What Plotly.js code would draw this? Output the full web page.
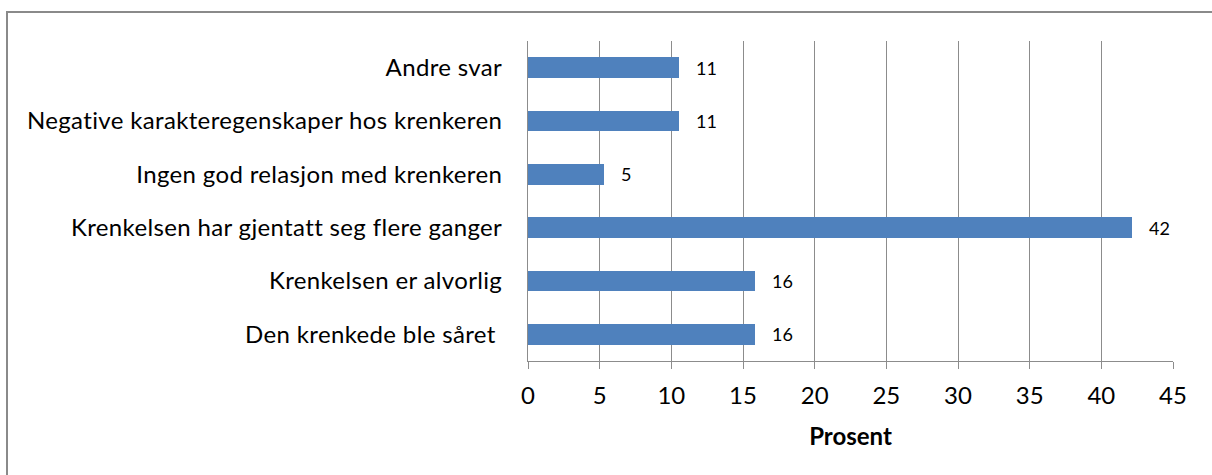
<!DOCTYPE html>
<html>
<head>
<meta charset="utf-8">
<script src="https://cdn.plot.ly/plotly-3.0.1.min.js"></script>
<style>
  html, body { margin: 0; padding: 0; background: #fff; }
  #chart { position: absolute; left: 0; top: 0; width: 1212px; height: 475px; }
  #frame { position: absolute; left: 6px; top: 11px; width: 1300px; height: 600px;
           border: 2px solid #8a8a8a; box-sizing: border-box; pointer-events: none; }
  #chart .ytick text { letter-spacing: 0.35px; }
</style>
</head>
<body>
<div id="chart"></div>
<div id="frame"></div>
<script>
// Categories, top to bottom as shown in the chart
const categories = [
  "Andre svar",
  "Negative karakteregenskaper hos krenkeren",
  "Ingen god relasjon med krenkeren",
  "Krenkelsen har gjentatt seg flere ganger",
  "Krenkelsen er alvorlig",
  "Den krenkede ble såret\u00a0"
];
// Bar lengths (percent)
const values = [10.54, 10.54, 5.3, 42.13, 15.82, 15.82];
// Data labels as printed
const labels = ["11", "11", "5", "42", "16", "16"];
// Axis ticks
const xTicks = [0, 5, 10, 15, 20, 25, 30, 35, 40, 45];
const xTitle = "Prosent";

const FONT = "Lato, Carlito, Calibri, 'Liberation Sans', sans-serif";

const trace = {
  type: "bar",
  orientation: "h",
  x: values,
  y: categories,
  width: 0.39,
  marker: { color: "#4F81BD", line: { width: 0 } },
  hoverinfo: "none"
};

const annotations = values.map((v, i) => ({
  x: v, y: categories[i], xref: "x", yref: "y",
  text: labels[i], showarrow: false,
  xanchor: "left", yanchor: "middle", xshift: 15,
  font: { family: FONT, size: 18, color: "#000" }
}));

const layout = {
  width: 1212, height: 475,
  margin: { l: 528, r: 39, t: 41, b: 114, pad: 0 },
  paper_bgcolor: "rgba(0,0,0,0)",
  plot_bgcolor: "#fff",
  showlegend: false,
  bargap: 0,
  xaxis: {
    range: [0, 45],
    tickvals: xTicks,
    ticktext: xTicks.map(String),
    showgrid: true, gridcolor: "#8c8c8c", gridwidth: 1,
    zeroline: false,
    showline: true, linecolor: "#8c8c8c", linewidth: 1,
    ticks: "outside", ticklen: 7, tickcolor: "#8c8c8c", tickwidth: 1,
    ticklabelstandoff: 6,
    tickfont: { family: FONT, size: 24, color: "#000" },
    title: { text: "<b>" + xTitle + "</b>", standoff: 20,
             font: { family: FONT, size: 24, color: "#000" } },
    automargin: false,
    fixedrange: true
  },
  yaxis: {
    type: "category",
    autorange: "reversed",
    showgrid: false,
    zeroline: false,
    showline: true, linecolor: "#8c8c8c", linewidth: 1,
    ticks: "",
    ticklabelstandoff: 20,
    tickfont: { family: FONT, size: 24, color: "#000" },
    automargin: false,
    fixedrange: true
  },
  annotations: annotations
};

Plotly.newPlot("chart", [trace], layout, { displayModeBar: false, staticPlot: true });
</script>
</body>
</html>
